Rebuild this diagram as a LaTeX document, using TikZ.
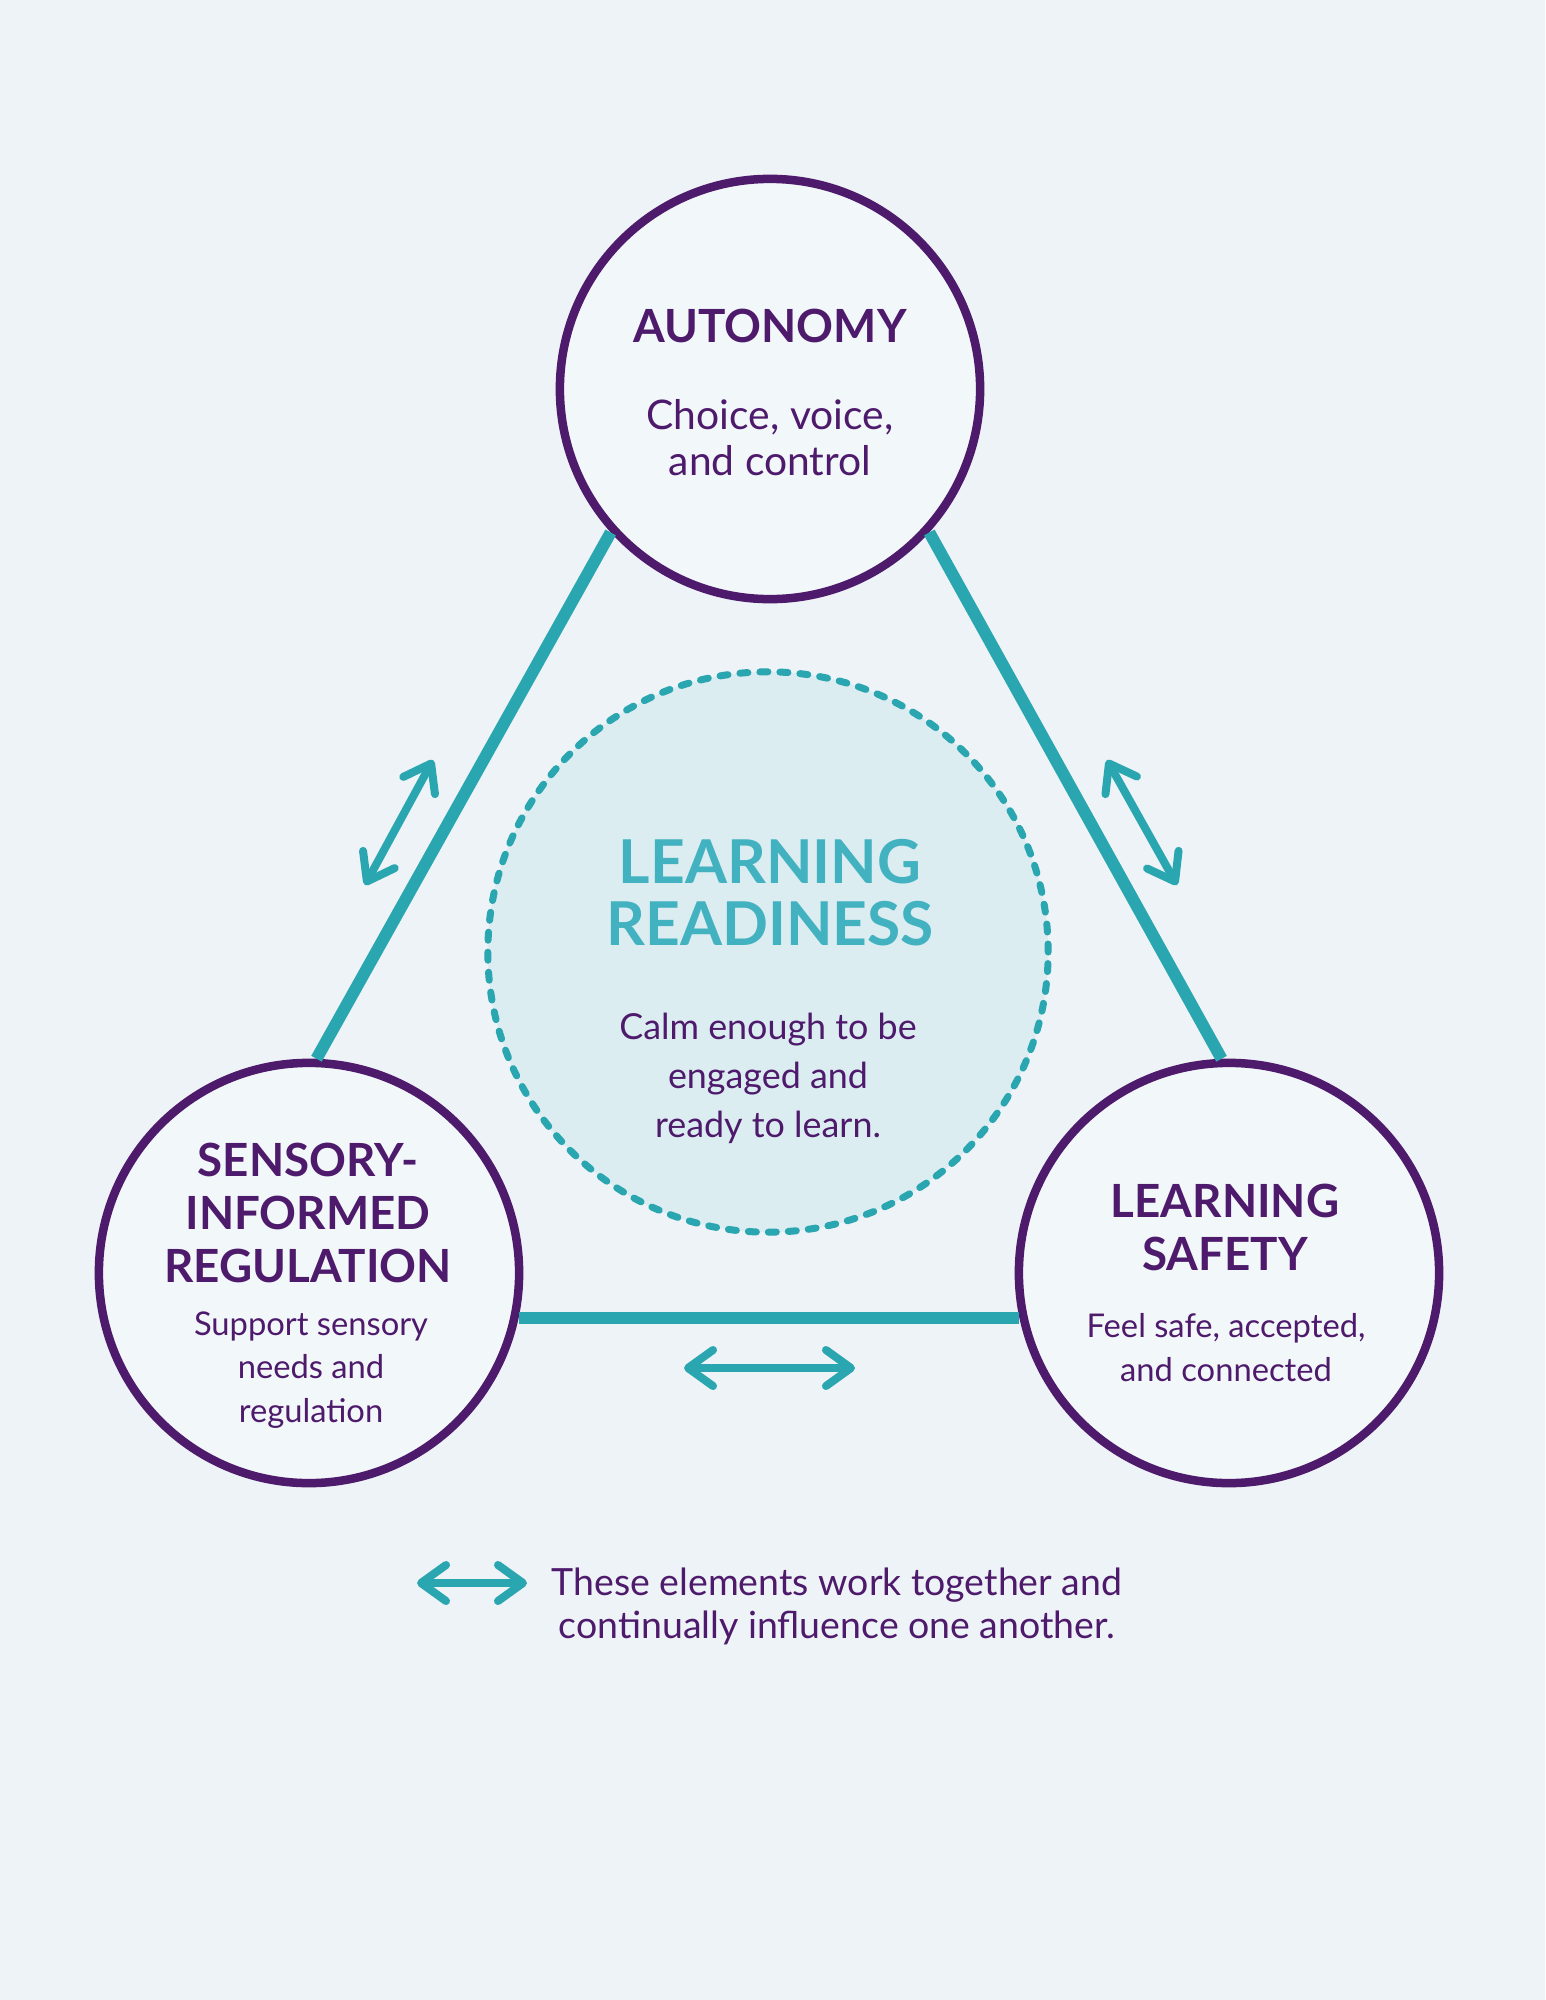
\documentclass[tikz,border=0pt]{standalone}
\usepackage{fontspec}
\setmainfont{Lato}
\usetikzlibrary{arrows.meta}
\definecolor{ink}{RGB}{78,26,107}
\definecolor{sea}{RGB}{42,166,176}
\definecolor{seatitle}{RGB}{66,178,192}
\definecolor{paper}{RGB}{237,243,246}
\definecolor{disc}{RGB}{242,247,250}
\definecolor{haze}{RGB}{220,237,242}

\begin{document}
\begin{tikzpicture}[x=0.01cm, y=-0.01cm, >={Straight Barb[length=0.25cm,width=0.36cm,round]},
    ring/.style={circle, draw=ink, line width=0.085cm, fill=disc, minimum size=4.2cm, inner sep=0pt},
    tri/.style={sea, line width=0.12cm},
    link/.style={<->, sea, line width=0.08cm, line cap=round},
    head/.style={ink, font=\fontsize{13}{15}\selectfont\bfseries, align=center, anchor=base},
    body/.style={ink, font=\fontsize{9.3}{12.3}\selectfont, align=center, anchor=base}]
    % 背景
    \fill[paper] (0,0) rectangle (1545,2000);
    \useasboundingbox (0,0) rectangle (1545,2000);

    % 中心虚线圆
    \node[circle, minimum size=5.6cm, inner sep=0pt, fill=haze, draw=sea, line width=0.07cm,
          dash pattern=on 0.08cm off 0.12cm, line cap=round] (ready) at (768,952) {};

    % 三个圆
    \node[ring] (auto) at (770,389) {};
    \node[ring] (sensory) at (309,1273) {};
    \node[ring] (safety) at (1229,1273) {};

    % 三角形的边
    \draw[tri] (auto.222) -- (sensory.88);
    \draw[tri] (auto.318) -- (safety.92);
    \draw[tri] (sensory.-12) -- (safety.192);

    % 双向箭头
    \coordinate (la) at (365,885);  \coordinate (lb) at (433,760);
    \coordinate (ra) at (1107,760); \coordinate (rb) at (1177,885);
    \coordinate (ba) at (684,1368); \coordinate (bb) at (855,1368);
    \draw[link] (la) -- (lb);
    \draw[link] (ra) -- (rb);
    \draw[link] (ba) -- (bb);

    % 圆内文字（base 取最后一行）
    \node[head] (autotitle) at (770,342) {AUTONOMY};
    \node[body, font=\fontsize{11.6}{12.8}\selectfont] (autotext) at (770,475) {Choice, voice,\\and control};
    \node[head] (sensorytitle) at (308,1282) {SENSORY-\\INFORMED\\REGULATION};
    \node[body] (sensorytext) at (311,1422) {Support sensory\\needs and\\regulation};
    \node[head] (safetytitle) at (1225,1270) {LEARNING\\SAFETY};
    \node[body] (safetytext) at (1226,1381) {Feel safe, accepted,\\and connected};
    \node[head, seatitle, font=\fontsize{17.2}{17.4}\selectfont\bfseries] (readytitle) at (770,945) {LEARNING\\READINESS};
    \node[body, font=\fontsize{10.2}{13.9}\selectfont] (readytext) at (768,1137) {Calm enough to be\\engaged and\\ready to learn.};

    % 图例
    \coordinate (ka) at (417,1583); \coordinate (kb) at (527,1583);
    \draw[link] (ka) -- (kb);
    \node[body, font=\fontsize{10.65}{12.2}\selectfont] (keytext) at (837,1638) {These elements work together and\\continually influence one another.};
\end{tikzpicture}
\end{document}
